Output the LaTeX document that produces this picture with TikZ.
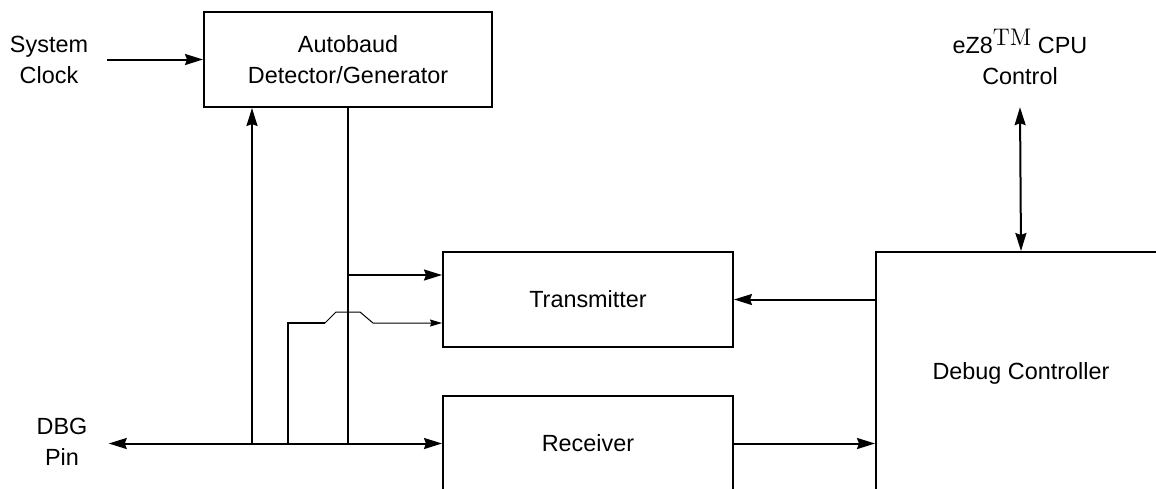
\documentclass[tikz,border=0pt]{standalone}
\usepackage[no-math]{fontspec}
\setmainfont{Liberation Sans}
\usetikzlibrary{arrows.meta}

\tikzset{block/.style={draw, line width=1pt, align=center, minimum width=145pt, minimum height=47.5pt, inner sep=0pt}}
\tikzset{lbl/.style={align=center, inner sep=3pt}}
\tikzset{arr/.style={line width=1pt, -{Stealth[length=9pt,width=5.5pt,inset=1pt]}},
  dblarr/.style={line width=1pt, {Stealth[length=9pt,width=5.5pt,inset=1pt]}-{Stealth[length=9pt,width=5.5pt,inset=1pt]}},
  wire/.style={line width=1pt},
  thinarr/.style={line width=0.5pt, -{Stealth[length=6pt,width=3.5pt,inset=0.7pt]}}}

\begin{document}
\begin{tikzpicture}[x=0.5pt, y=-0.5pt, font=\fontsize{11.7}{15.5}\selectfont]
  \useasboundingbox (0,0) rectangle (1156,488);
  \clip (0,0) rectangle (1156,488);
  % blocks
  \node [block, minimum width=144pt] (autobaud) at (348,59.5) {Autobaud\\Detector/Generator};
  \node [block] (tx) at (588,299.5) {Transmitter};
  \node [block] (rx) at (588,443.5) {Receiver};
  \node [block, minimum height=121pt] (dbg) at (1021,373) {Debug Controller};
  % outside labels
  \node [lbl] (sysclk) at (49,59.5) {System\\Clock};
  \node [lbl] (dbgpin) at (62,442) {DBG\\Pin};
  \node [lbl] (cpu) at (1020,61) {eZ8\smash{\raisebox{4pt}{$\mathrm{TM}$}} CPU\\Control};
  % bus taps
  \coordinate (j1) at (252,443.5);
  \coordinate (j2) at (288,443.5);
  \coordinate (j3) at (348,443.5);
  \coordinate (tin1) at ([yshift=12.25pt]tx.west);
  \coordinate (tin2) at ([yshift=-11.75pt]tx.west);
  \coordinate (jog) at (325,323);
  % connectors
  \draw [arr] ([xshift=6.5pt]sysclk.east) -- (autobaud.west);
  \draw [dblarr] ([xshift=7.5pt]dbgpin.east |- rx.west) -- (rx.west);
  \draw [arr] (j1) -- (j1 |- autobaud.south);
  \draw [wire] (autobaud.south) -- (j3);
  \draw [arr] (autobaud.south |- tin1) -- (tin1);
  \draw [wire] (j2) |- (jog);
  \draw [thinarr] (jog) -- ++(5.5pt,5.5pt) -- ++(12pt,0) -- ++(6.5pt,-5.5pt) -- (tin2);
  \draw [arr] (dbg.west |- tx.east) -- (tx.east);
  \draw [arr] (rx.east) -- (rx.east -| dbg.west);
  \draw [dblarr] ([yshift=-8pt]cpu.south) -- (dbg.north);
\end{tikzpicture}
\end{document}
